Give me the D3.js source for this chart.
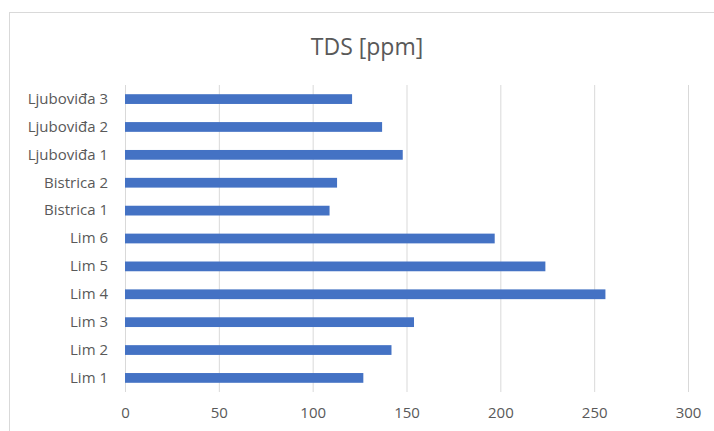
<!DOCTYPE html>
<html>
<head>
<meta charset="utf-8">
<script src="https://cdn.jsdelivr.net/npm/d3@7"></script>
<style>
	body { margin: 0; background: #fff; }
	text { font-family: "Open Sans", sans-serif; fill: #595959; }
</style>
</head>
<body>
<div id="chart"></div>
<script>
var categories = ['Ljubovića 3', 'Ljubovića 2', 'Ljubovića 1', 'Bistrica 2', 'Bistrica 1', 'Lim 6', 'Lim 5', 'Lim 4', 'Lim 3', 'Lim 2', 'Lim 1'];
var values = [121, 137, 148, 113, 109, 197, 224, 256, 154, 142, 127];
var xTicks = [0, 50, 100, 150, 200, 250, 300];
var title = 'TDS [ppm]';

// the source uses đ, not ć
categories = categories.map(function(c) { return c.replace('ć', 'đ'); });

var width = 714, height = 431;
var margin = { top: 85, right: 26, bottom: 39, left: 125 };
var font = '"Open Sans", sans-serif';

var svg = d3.select('#chart').append('svg')
	.attr('width', width)
	.attr('height', height);

// chart frame (cut off at right and bottom)
svg.append('rect')
	.attr('x', 9.5)
	.attr('y', 12.5)
	.attr('width', width)
	.attr('height', height)
	.attr('fill', 'none')
	.attr('stroke', '#d9d9d9');

svg.append('text')
	.attr('x', 367)
	.attr('y', 55)
	.attr('text-anchor', 'middle')
	.style('font-size', '23px')
	.text(title);

var x = d3.scaleLinear()
	.domain([0, 300])
	.range([margin.left, width - margin.right]);

var y = d3.scaleBand()
	.domain(categories)
	.range([margin.top, height - margin.bottom])
	.paddingInner(0.65)
	.paddingOuter(0.33);

// gridlines
svg.append('g')
	.selectAll('line')
	.data(xTicks)
	.enter().append('line')
	.attr('x1', function(d) { return x(d) + 0.5; })
	.attr('x2', function(d) { return x(d) + 0.5; })
	.attr('y1', margin.top)
	.attr('y2', height - margin.bottom)
	.attr('stroke', '#d9d9d9');

var xAxis = d3.axisBottom(x)
	.tickValues(xTicks)
	.tickSize(0)
	.tickPadding(15);

var gx = svg.append('g')
	.attr('transform', 'translate(0,' + (height - margin.bottom) + ')')
	.call(xAxis);
gx.select('.domain').remove();
gx.selectAll('text').style('font-size', '15px').style('font-family', font).attr('fill', '#595959');

var yAxis = d3.axisLeft(y).tickSize(0).tickPadding(17);
var gy = svg.append('g')
	.attr('transform', 'translate(' + margin.left + ',0)')
	.call(yAxis);
gy.select('.domain').remove();
gy.selectAll('text').style('font-size', '15px').style('font-family', font).attr('fill', '#595959');

svg.append('g')
	.selectAll('rect')
	.data(values)
	.enter().append('rect')
	.attr('x', x(0))
	.attr('y', function(d, i) { return y(categories[i]); })
	.attr('width', function(d) { return x(d) - x(0); })
	.attr('height', y.bandwidth())
	.attr('fill', '#4472c4');
</script>
</body>
</html>
